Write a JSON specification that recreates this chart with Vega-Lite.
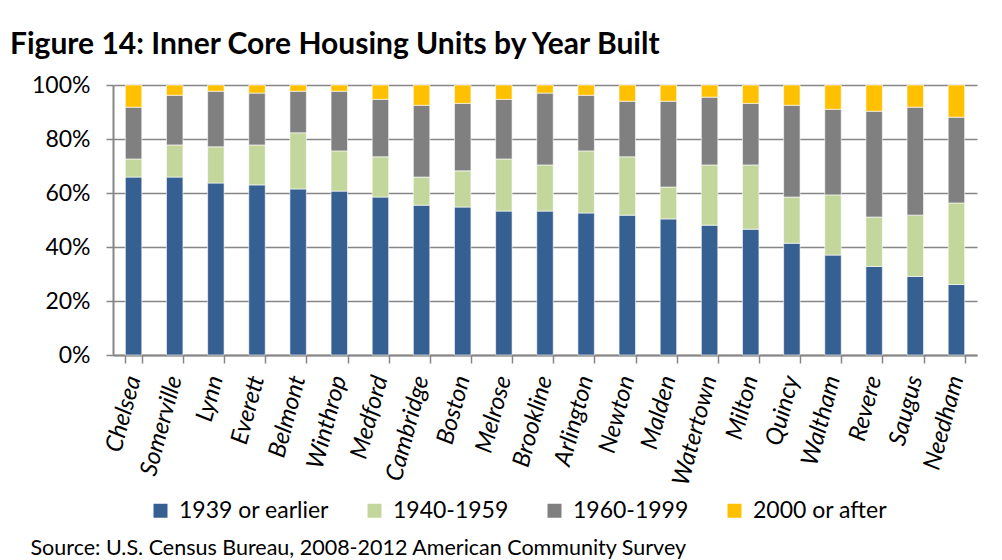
{
  "$schema": "https://vega.github.io/schema/vega-lite/v6.json",
  "width": 864,
  "height": 270,
  "autosize": {"type": "none"},
  "padding": {"left": 113, "top": 85, "right": 25, "bottom": 205},
  "background": "white",
  "title": {
    "text": "Figure 14: Inner Core Housing Units by Year Built",
    "anchor": "start",
    "frame": "group",
    "dx": -103,
    "offset": 14,
    "font": "Lato",
    "fontSize": 30,
    "fontWeight": "bold",
    "color": "#000000"
  },
  "data": {
    "values": [
      {"town": "Chelsea", "1939 or earlier": 65.9, "1940-1959": 6.7, "1960-1999": 19.2, "2000 or after": 8.2},
      {"town": "Somerville", "1939 or earlier": 65.9, "1940-1959": 11.9, "1960-1999": 18.4, "2000 or after": 3.8},
      {"town": "Lynn", "1939 or earlier": 63.7, "1940-1959": 13.4, "1960-1999": 20.6, "2000 or after": 2.3},
      {"town": "Everett", "1939 or earlier": 63.0, "1940-1959": 14.8, "1960-1999": 19.2, "2000 or after": 3.0},
      {"town": "Belmont", "1939 or earlier": 61.5, "1940-1959": 20.8, "1960-1999": 15.4, "2000 or after": 2.3},
      {"town": "Winthrop", "1939 or earlier": 60.7, "1940-1959": 14.9, "1960-1999": 22.1, "2000 or after": 2.3},
      {"town": "Medford", "1939 or earlier": 58.5, "1940-1959": 14.9, "1960-1999": 21.3, "2000 or after": 5.3},
      {"town": "Cambridge", "1939 or earlier": 55.5, "1940-1959": 10.4, "1960-1999": 26.6, "2000 or after": 7.5},
      {"town": "Boston", "1939 or earlier": 54.8, "1940-1959": 13.4, "1960-1999": 25.0, "2000 or after": 6.8},
      {"town": "Melrose", "1939 or earlier": 53.3, "1940-1959": 19.3, "1960-1999": 22.1, "2000 or after": 5.3},
      {"town": "Brookline", "1939 or earlier": 53.3, "1940-1959": 17.1, "1960-1999": 26.6, "2000 or after": 3.0},
      {"town": "Arlington", "1939 or earlier": 52.6, "1940-1959": 23.0, "1960-1999": 20.6, "2000 or after": 3.8},
      {"town": "Newton", "1939 or earlier": 51.8, "1940-1959": 21.6, "1960-1999": 20.6, "2000 or after": 6.0},
      {"town": "Malden", "1939 or earlier": 50.4, "1940-1959": 11.8, "1960-1999": 31.8, "2000 or after": 6.0},
      {"town": "Watertown", "1939 or earlier": 48.1, "1940-1959": 22.3, "1960-1999": 25.1, "2000 or after": 4.5},
      {"town": "Milton", "1939 or earlier": 46.6, "1940-1959": 23.8, "1960-1999": 22.8, "2000 or after": 6.8},
      {"town": "Quincy", "1939 or earlier": 41.4, "1940-1959": 17.1, "1960-1999": 34.0, "2000 or after": 7.5},
      {"town": "Waltham", "1939 or earlier": 37.0, "1940-1959": 22.3, "1960-1999": 31.7, "2000 or after": 9.0},
      {"town": "Revere", "1939 or earlier": 32.8, "1940-1959": 18.3, "1960-1999": 39.2, "2000 or after": 9.7},
      {"town": "Saugus", "1939 or earlier": 29.1, "1940-1959": 22.7, "1960-1999": 40.0, "2000 or after": 8.2},
      {"town": "Needham", "1939 or earlier": 26.1, "1940-1959": 30.2, "1960-1999": 31.8, "2000 or after": 11.9}
    ]
  },
  "transform": [
    {"fold": ["1939 or earlier", "1940-1959", "1960-1999", "2000 or after"], "as": ["period", "share"]}
  ],
  "mark": {"type": "bar", "stroke": "#ffffff", "strokeWidth": 0.6},
  "encoding": {
    "x": {
      "field": "town",
      "type": "nominal",
      "sort": null,
      "scale": {"paddingInner": 0.6, "paddingOuter": 0.3},
      "axis": {
        "title": "Source: U.S. Census Bureau, 2008-2012 American Community Survey",
        "titleX": -83,
        "titleY": 199,
        "titleAlign": "left",
        "titleAnchor": "start",
        "titleBaseline": "alphabetic",
        "titleFont": "Lato",
        "titleFontSize": 21.5,
        "titleFontWeight": "normal",
        "titleColor": "#000000",
        "labelAngle": -75,
        "labelAlign": "right",
        "labelBaseline": "middle",
        "labelFont": "Lato",
        "labelFontSize": 24,
        "labelFontStyle": "italic",
        "labelColor": "#000000",
        "labelPadding": 13,
        "labelOverlap": false,
        "tickBand": "extent",
        "tickSize": 8,
        "tickColor": "#868686",
        "tickWidth": 1.5,
        "domainColor": "#868686",
        "domainWidth": 2
      }
    },
    "y": {
      "field": "share",
      "type": "quantitative",
      "stack": "normalize",
      "scale": {"domain": [0, 1]},
      "axis": {
        "title": null,
        "values": [0, 0.2, 0.4, 0.6, 0.8, 1],
        "format": ".0%",
        "labelFont": "Lato",
        "labelFontSize": 23,
        "labelColor": "#000000",
        "labelPadding": 16,
        "tickSize": 7,
        "tickColor": "#868686",
        "tickWidth": 1.5,
        "grid": true,
        "gridColor": "#868686",
        "gridWidth": 1.5,
        "domainColor": "#868686",
        "domainWidth": 2
      }
    },
    "color": {
      "field": "period",
      "type": "nominal",
      "scale": {
        "domain": ["1939 or earlier", "1940-1959", "1960-1999", "2000 or after"],
        "range": ["#376092", "#C3D69B", "#808080", "#FFC000"]
      },
      "legend": {
        "title": null,
        "orient": "none",
        "direction": "horizontal",
        "legendX": 36,
        "legendY": 414,
        "symbolType": "square",
        "symbolSize": 196,
        "symbolStrokeWidth": 0,
        "labelFont": "Lato",
        "labelFontSize": 23,
        "labelColor": "#000000",
        "labelOffset": 7,
        "columnPadding": 34
      }
    },
    "order": {"field": "period", "type": "nominal", "sort": "ascending"}
  },
  "config": {"view": {"stroke": null}}
}
